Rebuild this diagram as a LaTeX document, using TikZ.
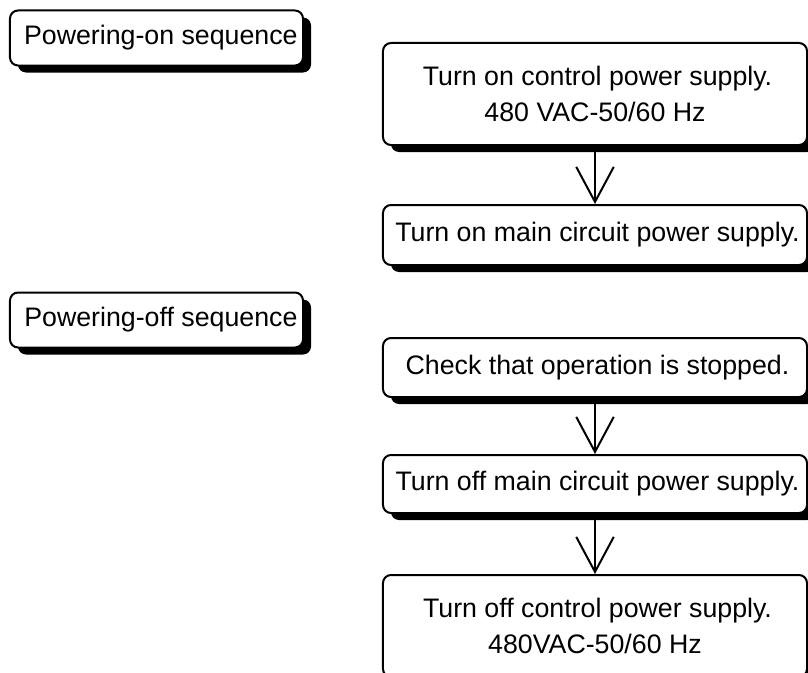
\documentclass[tikz,border=0pt]{standalone}
\usepackage{fontspec}
\setmainfont{Liberation Sans}
\usetikzlibrary{shadows,arrows.meta}
\tikzset{
  box/.style={draw, line width=0.8pt, rounded corners=3.2pt, fill=white,
    align=center, inner sep=0pt, font=\fontsize{10.7}{14.6}\selectfont,
    drop shadow={shadow xshift=3.2pt, shadow yshift=-2.8pt, fill=black, opacity=1}},
  title/.style={box, minimum width=117.2pt, minimum height=22pt},
  stepbox/.style={box, minimum width=169.6pt},
  flow/.style={line width=0.8pt, -{Straight Barb[length=14pt, width=15pt, line width=0.8pt]}}
}
\begin{document}
  \begin{tikzpicture}[x=0.4pt, y=-0.4pt]
    \useasboundingbox (0, 0) rectangle (808, 673) ;
    \clip (0, 0) rectangle (808, 673) ;
    \node[title] (on) at (156.5, 38) {\hspace*{3.5pt}Powering-on sequence} ;
    \node[title] (off) at (156.5, 320) {\hspace*{3.5pt}Powering-off sequence} ;
    \node[stepbox, minimum height=40.8pt] (ctrlon) at (595, 94)
      {\hspace*{2pt}Turn on control power supply.\\480 VAC-50/60 Hz} ;
    \node[stepbox, minimum height=24pt] (mainon) at (595, 235)
      {\hspace*{2pt}Turn on main circuit power supply.} ;
    \node[stepbox, minimum height=23.6pt] (check) at (595, 367.5)
      {\hspace*{2pt}Check that operation is stopped.} ;
    \node[stepbox, minimum height=23.2pt] (mainoff) at (595, 484)
      {\hspace*{2pt}Turn off main circuit power supply.} ;
    \node[stepbox, minimum height=40.8pt] (ctrloff) at (595, 626)
      {\hspace*{2pt}Turn off control power supply.\\480VAC-50/60 Hz} ;
    \draw[flow] (ctrlon.south) -- (mainon.north) ;
    \draw[flow] (check.south) -- (mainoff.north) ;
    \draw[flow] (mainoff.south) -- (ctrloff.north) ;
  \end{tikzpicture}
\end{document}
